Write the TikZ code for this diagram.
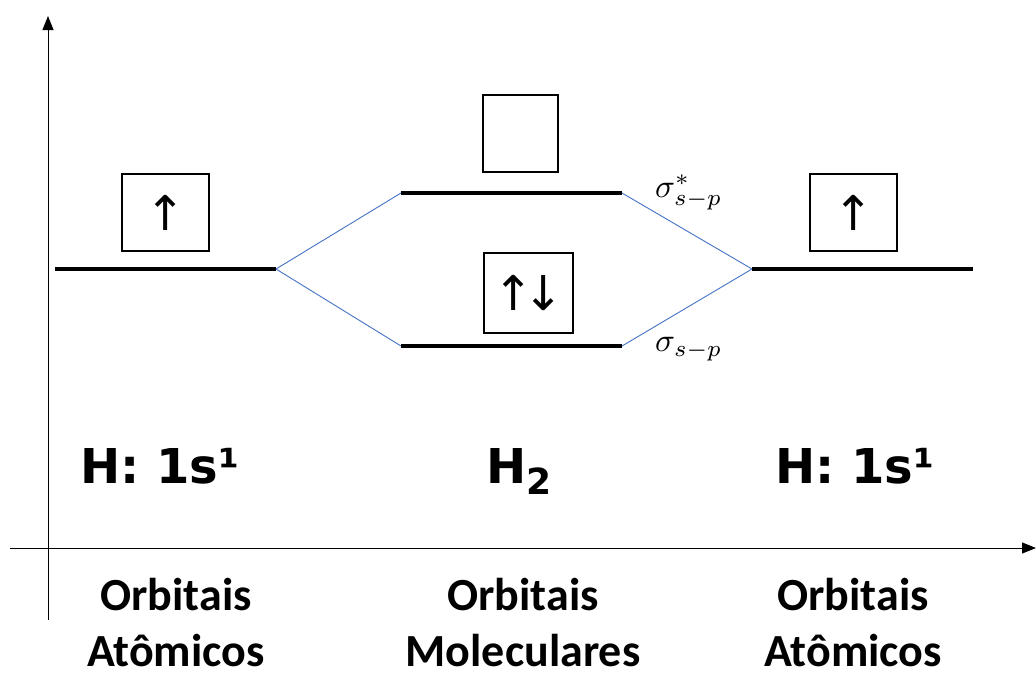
\documentclass[tikz,border=0pt]{standalone}
\usepackage{graphicx}
\usepackage{fontspec}
\setmainfont{Carlito}
\newfontfamily\dejavu{DejaVu Sans}
\usetikzlibrary{arrows.meta}
\definecolor{lineblue}{HTML}{4472C4}
\tikzset{
  level/.style={line width=4pt},
  link/.style={lineblue, line width=0.9pt},
  axis/.style={line width=1pt, -{Triangle[width=11pt,length=14pt]}},
  orbbox/.style={draw, line width=1.4pt, minimum width=87pt, minimum height=77pt, inner sep=0pt, font=\dejavu\fontsize{48}{48}\selectfont},
  config/.style={font=\dejavu\bfseries\fontsize{48}{48}\selectfont, anchor=base},
  caption/.style={font=\bfseries\fontsize{46}{56}\selectfont, align=center, inner sep=0pt},
  siglabel/.style={anchor=west, inner sep=0pt}
}
\begin{document}
\begin{tikzpicture}[x=1pt,y=-1pt]
\useasboundingbox (0,0) rectangle (1036,673);
% axes
\coordinate (vbot) at (48,620);
\coordinate (vtop) at (48,16);
\coordinate (hleft) at (10,548);
\coordinate (hright) at (1036,548);
\draw[axis] (vbot) -- (vtop);
\draw[axis] (hleft) -- (hright);
% levels
\coordinate (L1) at (55,269); \coordinate (L2) at (276,269);
\coordinate (R1) at (752,269); \coordinate (R2) at (973,269);
\coordinate (T1) at (401,193); \coordinate (T2) at (622,193);
\coordinate (B1) at (401,346); \coordinate (B2) at (622,346);
\draw[link] (L2) -- (T1);
\draw[link] (L2) -- (B1);
\draw[link] (T2) -- (R1);
\draw[link] (B2) -- (R1);
\draw[level] (L1) -- (L2);
\draw[level] (R1) -- (R2);
\draw[level] (T1) -- (T2);
\draw[level] (B1) -- (B2);
% boxes
\node[orbbox] (boxL) at (165.5,212.5) {↑};
\node[orbbox] (boxR) at (853.5,212.5) {↑};
\node[orbbox, minimum width=75pt] (boxT) at (520.5,133.5) {};
\node[orbbox, minimum width=89pt, minimum height=80pt] (boxB) at (528.5,293) {↑\kern-0.2em↓};
% sigma labels
\node[siglabel] (sigstar) at (655,192) {\scalebox{3.3}{$\sigma^{*}_{s-p}$}};
\node[siglabel] (sig) at (655,349) {\scalebox{3.3}{$\sigma_{s-p}$}};
% configurations
\node[config] (cfgL) at (160,483) {H: 1s¹};
\node[config] (cfgM) at (519,483) {H\raisebox{-11pt}{\fontsize{36}{36}\selectfont 2}};
\node[config] (cfgR) at (855,483) {H: 1s¹};
% captions
\node[caption] (capL) at (176,623) {Orbitais\\Atômicos};
\node[caption] (capM) at (523,623) {Orbitais\\Moleculares};
\node[caption] (capR) at (853,623) {Orbitais\\Atômicos};
\end{tikzpicture}
\end{document}
